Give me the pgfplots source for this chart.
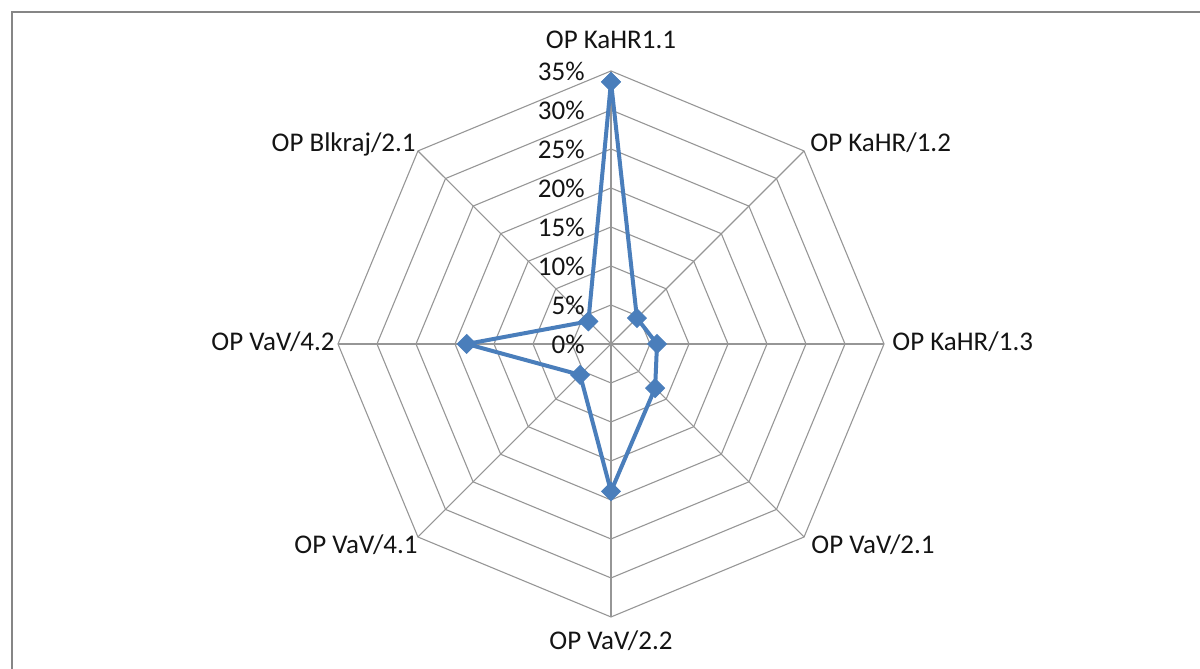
\documentclass[border=0pt]{standalone}
\usepackage{fontspec}
\setmainfont{Carlito}
\usepackage{pgfplots}
\pgfplotsset{compat=1.18}
\definecolor{gridgray}{RGB}{150,150,150}
\definecolor{framegray}{RGB}{134,134,134}
\definecolor{serblue}{RGB}{74,126,187}
\definecolor{txt}{RGB}{20,20,20}
\tikzset{lbl/.style={font=\fontsize{13.5}{16}\selectfont, text=txt, inner sep=0pt}}
\begin{document}
\begin{tikzpicture}
\begin{axis}[
  hide axis, scale only axis,
  width=600pt, height=334.5pt,
  xmin=-78.33, xmax=75.51, ymin=-41.67, ymax=44.10,
  clip=false,
]
\coordinate (sw) at (rel axis cs:0,0);
\coordinate (ne) at (rel axis cs:1,1);
% frame
\draw[framegray, line width=1.3pt] (axis cs:-76.79,-41.67) -- (axis cs:-76.79,42.56) -- (axis cs:75.51,42.56);
% rings
\pgfplotsinvokeforeach{5,10,15,20,25,30,35}{
  \addplot[gridgray, line width=0.55pt, data cs=polar, forget plot] coordinates {(90,#1) (45,#1) (0,#1) (-45,#1) (-90,#1) (-135,#1) (180,#1) (135,#1) (90,#1)};
}
% spokes
\addplot[gridgray, line width=0.55pt, data cs=polar] coordinates {(90,35) (-90,35)};
\addplot[gridgray, line width=0.55pt, data cs=polar] coordinates {(0,35) (180,35)};
\addplot[gridgray, line width=0.55pt, data cs=polar] coordinates {(45,35) (-135,35)};
\addplot[gridgray, line width=0.55pt, data cs=polar] coordinates {(135,35) (-45,35)};
% tick labels
\pgfplotsinvokeforeach{0,5,10,15,20,25,30,35}{
  \node[lbl, anchor=east] at (axis cs:-3.33,#1) {#1\%};
}
% series
\addplot[serblue, line width=2pt, data cs=polar, mark=square*, mark size=3.3pt,
  mark options={rotate=45, fill=serblue, draw=serblue, line width=0.5pt}]
  coordinates {
  (90,33.6) (45,4.7) (0,5.9) (-45,8.0) (-90,18.9) (-135,5.6) (180,18.5) (135,4.1) (90,33.6)
  };
% category labels
\node[lbl, anchor=base] at (axis cs:0,37.82) {OP KaHR1.1};
\node[lbl, anchor=base west] at (axis cs:25.51,24.62) {OP KaHR/1.2};
\node[lbl, anchor=base west] at (axis cs:36.03,-0.9) {OP KaHR/1.3};
\node[lbl, anchor=base west] at (axis cs:25.64,-26.9) {OP VaV/2.1};
\node[lbl, anchor=base] at (axis cs:0,-39.23) {OP VaV/2.2};
\node[lbl, anchor=base east] at (axis cs:-24.74,-26.9) {OP VaV/4.1};
\node[lbl, anchor=base east] at (axis cs:-35.38,-0.9) {OP VaV/4.2};
\node[lbl, anchor=base east] at (axis cs:-25.0,24.62) {OP Blkraj/2.1};
\end{axis}
\pgfresetboundingbox
\useasboundingbox (sw) rectangle (ne);
\end{tikzpicture}
\end{document}
